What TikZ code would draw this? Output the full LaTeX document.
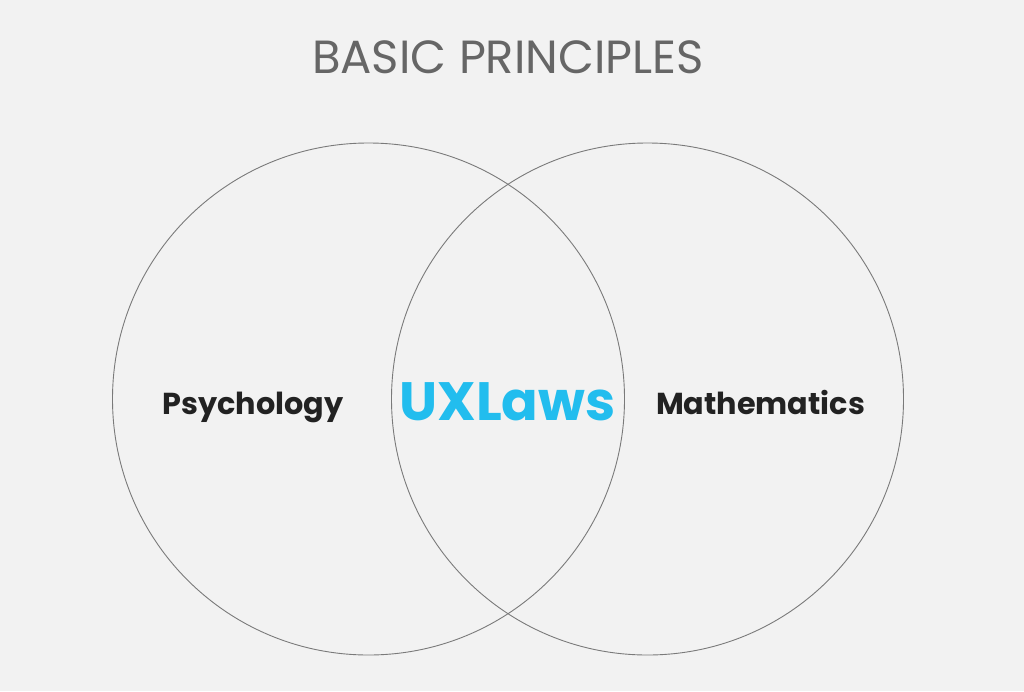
\documentclass[tikz,border=0pt]{standalone}
\usepackage{fontspec}
\setmainfont{Poppins}
\definecolor{bg}{HTML}{F2F2F2}
\definecolor{titlegray}{HTML}{666666}
\definecolor{ringgray}{HTML}{7A7A7A}
\definecolor{labelink}{HTML}{222222}
\definecolor{uxblue}{HTML}{22BDEE}
\tikzset{
  ring/.style={draw=ringgray, line width=0.9pt},
  label/.style={font=\fontsize{30.3}{36}\selectfont\bfseries, text=labelink, inner sep=0pt, anchor=base},
}
\begin{document}
\begin{tikzpicture}[x=1pt,y=-1pt]
\fill[bg] (0,0) rectangle (1024,691);
\useasboundingbox (0,0) rectangle (1024,691);
\node[font=\fontsize{46.5}{52}\selectfont, text=titlegray, inner sep=0pt, anchor=base] (title) at (508,73) {BASIC PRINCIPLES};
\node[ring, circle, minimum size=512pt, inner sep=0pt] (left) at (368.5,399) {};
\node[ring, circle, minimum size=512pt, inner sep=0pt] (right) at (647.5,399) {};
\node[label] (psy) at (253,414) {Psychology};
\node[label] (math) at (760.5,414) {Mathematics};
\node[font=\fontsize{54}{60}\selectfont\bfseries, text=uxblue, inner sep=0pt, anchor=base] (ux) at (507.5,420) {UXLaws};
\end{tikzpicture}
\end{document}
